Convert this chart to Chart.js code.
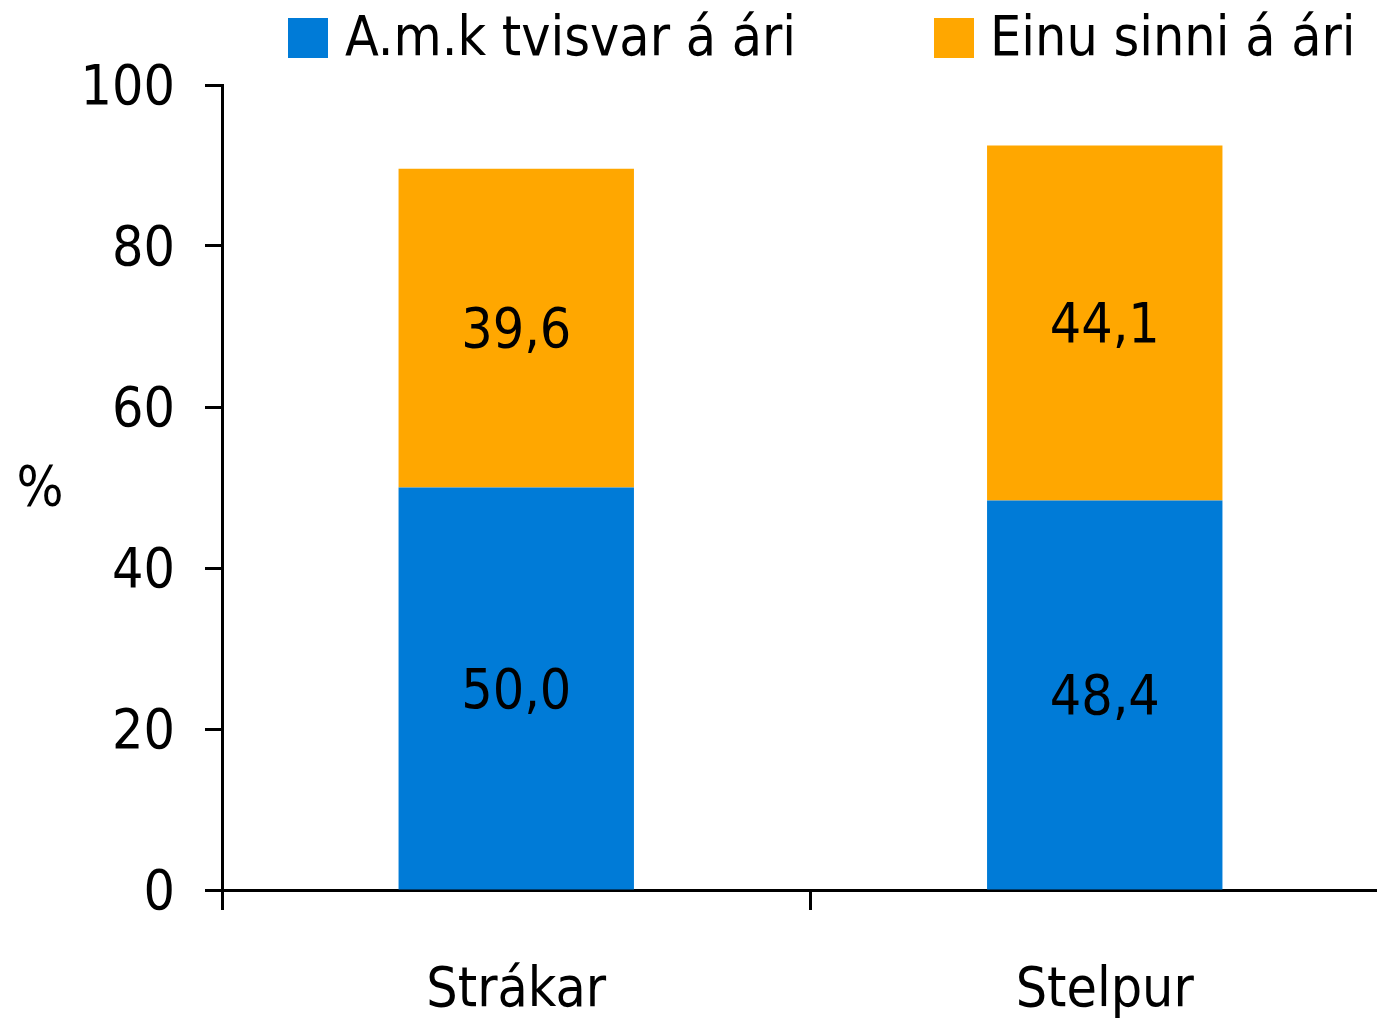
<!DOCTYPE html>
<html>
<head>
<meta charset="utf-8">
<script src="https://cdn.jsdelivr.net/npm/chart.js@4.4.1/dist/chart.umd.min.js"></script>
<style>
  html, body { margin: 0; padding: 0; background: #fff; overflow: hidden; }
  #wrap { width: 1410px; height: 1021px; position: relative; }
</style>
</head>
<body>
<div id="wrap"><canvas id="c"></canvas></div>
<script>
const categories = ['Strákar', 'Stelpur'];
const seriesNames = ['A.m.k tvisvar á ári', 'Einu sinni á ári'];
const atLeastTwice = [50.0, 48.4];
const onceAYear = [39.6, 44.1];
const yTickValues = [0, 20, 40, 60, 80, 100];
const yAxisLabel = '%';

const FONT = '"DejaVu Sans Condensed", "DejaVu Sans", sans-serif';
const FS = 55;
const BLUE = '#007bd7';
const ORANGE = '#ffa700';

const fmt = v => v.toFixed(1).replace('.', ',');

const valueLabels = {
  id: 'valueLabels',
  afterDatasetsDraw(chart) {
    const ctx = chart.ctx;
    ctx.save();
    ctx.font = FS + 'px ' + FONT;
    ctx.fillStyle = '#000';
    ctx.textAlign = 'center';
    ctx.textBaseline = 'middle';
    chart.data.datasets.forEach((ds, i) => {
      const meta = chart.getDatasetMeta(i);
      meta.data.forEach((el, j) => {
        ctx.fillText(fmt(ds.data[j]), el.x, (el.y + el.base) / 2 + 5);
      });
    });
    ctx.restore();
  }
};

const extras = {
  id: 'extras',
  afterDraw(chart) {
    const ctx = chart.ctx;
    const ca = chart.chartArea;
    ctx.save();
    ctx.font = FS + 'px ' + FONT;
    ctx.fillStyle = '#000';
    ctx.textAlign = 'center';
    ctx.textBaseline = 'middle';
    ctx.fillText(yAxisLabel, 40, (ca.top + ca.bottom) / 2 + 3);
    // legend
    const items = [
      { box: 288, text: 345 },
      { box: 934, text: 990 }
    ];
    ctx.textAlign = 'left';
    chart.data.datasets.forEach((ds, i) => {
      ctx.fillStyle = ds.backgroundColor;
      ctx.fillRect(items[i].box, 18, 40, 40);
      ctx.fillStyle = '#000';
      ctx.fillText(ds.label, items[i].text, 41);
    });
    ctx.restore();
  }
};

new Chart(document.getElementById('c'), {
  type: 'bar',
  data: {
    labels: categories,
    datasets: [
      { label: seriesNames[0], data: atLeastTwice, backgroundColor: BLUE },
      { label: seriesNames[1], data: onceAYear, backgroundColor: ORANGE }
    ]
  },
  options: {
    responsive: true,
    maintainAspectRatio: false,
    devicePixelRatio: 1,
    animation: false,
    layout: { padding: { top: 85, left: 0, right: 11, bottom: 0 } },
    datasets: { bar: { categoryPercentage: 1, barPercentage: 0.4 } },
    plugins: { legend: { display: false }, tooltip: { enabled: false } },
    scales: {
      x: {
        stacked: true,
        offset: true,
        afterFit(scale) { scale.height = 131; },
        border: { display: true, color: '#000', width: 3 },
        grid: { offset: true, drawOnChartArea: false, drawTicks: true, tickLength: 20, tickWidth: 3, tickColor: '#000' },
        ticks: { color: '#000', font: { size: FS, family: FONT }, padding: 49, maxRotation: 0 }
      },
      y: {
        stacked: true,
        min: 0,
        max: 100,
        afterBuildTicks(scale) { scale.ticks = yTickValues.map(v => ({ value: v })); },
        afterFit(scale) { scale.width = 222; },
        border: { display: true, color: '#000', width: 3 },
        grid: { drawOnChartArea: false, drawTicks: true, tickLength: 17, tickWidth: 3, tickColor: '#000' },
        ticks: { color: '#000', font: { size: FS, family: FONT }, padding: 30, labelOffset: 5 }
      }
    }
  },
  plugins: [valueLabels, extras]
});
</script>
</body>
</html>
